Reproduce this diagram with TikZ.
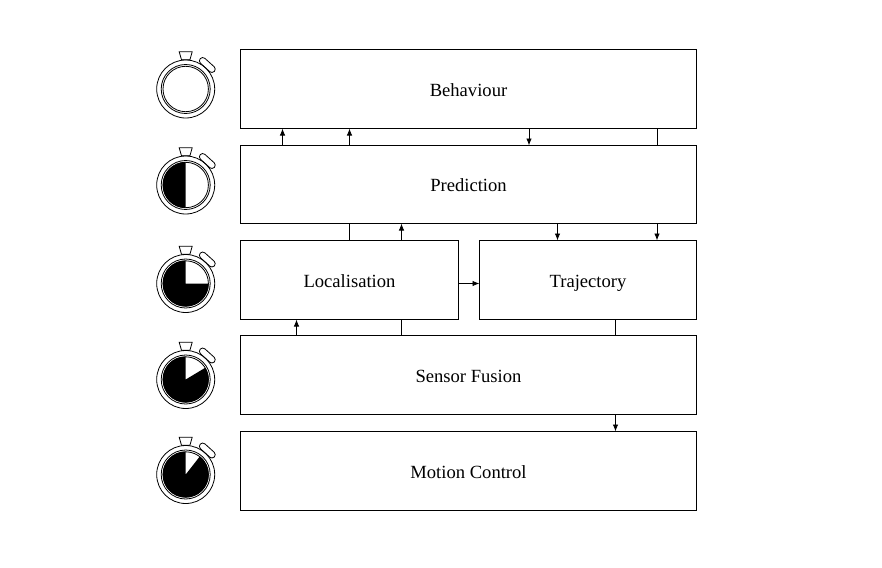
\documentclass[tikz,border=0pt]{standalone}
\usepackage{fontspec}
\setmainfont{Liberation Serif}
\usetikzlibrary{arrows.meta}
\tikzset{
x=1pt, y=-1pt,
block/.style={draw, line width=0.9pt, inner sep=0pt, outer sep=0pt, text height=14pt, text depth=0pt, font=\fontsize{18.6}{20}\selectfont}, % every box of the stack
flow/.style={line width=0.9pt, -{Latex[length=7pt,width=5.5pt]}}, % connector with a head
link/.style={line width=0.9pt}, % connector without a head
}
% #1 centre height, #2 angle where the black part ends
\newcommand{\stopwatch}[2]{
\begin{scope}[shift={(185.7,#1)}, line width=0.8pt]
\draw (0,0) circle (29);
\draw (0,0) circle (24.5);
\draw (0,0) circle (22.7);
\ifnum#2>90 \fill (0,0) -- (0,-23) arc[start angle=-90, end angle=-#2, radius=23] -- cycle; \fi
\draw (-6.5,-37.2) -- (6.5,-37.2) -- (4.2,-29.2) -- (-4.2,-29.2) -- cycle;
\draw[rotate=-42, rounded corners=3.2pt] (-9.5,-35.6) rectangle (9.5,-29);
\end{scope}
}
\begin{document}
\begin{tikzpicture}
\useasboundingbox (0,0) rectangle (882,567);
\node[block, minimum width=456, minimum height=79, anchor=north west] (Behaviour) at (240.5,49.5) {Behaviour};
\node[block, minimum width=456, minimum height=78, anchor=north west] (Prediction) at (240.5,145.5) {Prediction};
\node[block, minimum width=218, minimum height=79, anchor=north west] (Localisation) at (240.5,240.5) {Localisation};
\node[block, minimum width=217, minimum height=79, anchor=north west] (Trajectory) at (479.5,240.5) {Trajectory};
\node[block, minimum width=456, minimum height=79, anchor=north west] (Fusion) at (240.5,335.5) {Sensor Fusion};
\node[block, minimum width=456, minimum height=79, anchor=north west] (Control) at (240.5,431.5) {Motion Control};
% between Prediction and Behaviour
\draw[flow] ([xshift=42]Prediction.north west) -- ([xshift=42]Behaviour.south west);
\draw[flow] ([xshift=109]Prediction.north west) -- ([xshift=109]Behaviour.south west);
\draw[flow] ([xshift=288.5]Behaviour.south west) -- ([xshift=288.5]Prediction.north west);
\draw[link] ([xshift=416.5]Behaviour.south west) -- ([xshift=416.5]Prediction.north west);
% between Prediction and the middle row
\draw[link] (Prediction.south -| Localisation.north) -- (Localisation.north);
\draw[flow] ([xshift=161]Localisation.north west) -- ([xshift=161]Prediction.south west);
\draw[flow] ([xshift=317]Prediction.south west) -- ([xshift=78]Trajectory.north west);
\draw[flow] ([xshift=416.5]Prediction.south west) -- ([xshift=177.5]Trajectory.north west);
\draw[flow] ([yshift=-3.5]Localisation.east) -- ([yshift=-3.5]Trajectory.west);
% between the middle row and Sensor Fusion
\draw[flow] ([xshift=56]Fusion.north west) -- ([xshift=56]Localisation.south west);
\draw[link] ([xshift=161]Fusion.north west) -- ([xshift=161]Localisation.south west);
\draw[link] ([xshift=375]Fusion.north west) -- ([xshift=136]Trajectory.south west);
% between Sensor Fusion and Motion Control
\draw[flow] ([xshift=375]Fusion.south west) -- ([xshift=375]Control.north west);
\stopwatch{89}{90}
\stopwatch{185}{270}
\stopwatch{283.5}{360}
\stopwatch{379.5}{391}
\stopwatch{474.5}{412}
\end{tikzpicture}
\end{document}
